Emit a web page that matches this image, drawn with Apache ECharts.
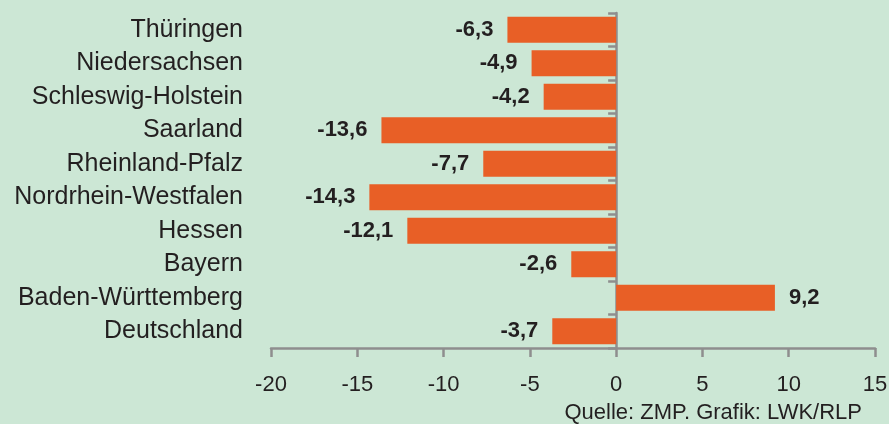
<!DOCTYPE html>
<html>
<head>
<meta charset="utf-8">
<script src="https://cdn.jsdelivr.net/npm/echarts@6/dist/echarts.min.js"></script>
<style>
  html, body { margin: 0; padding: 0; background: #cce7d5; }
  #main { width: 889px; height: 424px; }
</style>
</head>
<body>
<div id="main"></div>
<script>
// Bundesländer, von oben nach unten
const regions = ['Thüringen', 'Niedersachsen', 'Schleswig-Holstein', 'Saarland', 'Rheinland-Pfalz',
  'Nordrhein-Westfalen', 'Hessen', 'Bayern', 'Baden-Württemberg', 'Deutschland']
// Veränderung in %
const changes = [-6.3, -4.9, -4.2, -13.6, -7.7, -14.3, -12.1, -2.6, 9.2, -3.7]
const xTicks = [-20, -15, -10, -5, 0, 5, 10, 15]
const source = 'Quelle: ZMP. Grafik: LWK/RLP'

const axisGray = '#8e8e8e'
const textColor = '#231f20'
const font = 'Liberation Sans, Arial, sans-serif'

const option = {
  backgroundColor: '#cce7d5',
  animation: false,
  grid: { left: 271, right: 14, top: 13, bottom: 76, containLabel: false, outerBoundsMode: 'none' },
  xAxis: {
    type: 'value',
    min: xTicks[0],
    max: xTicks[xTicks.length - 1],
    interval: 5,
    axisLine: { show: true, lineStyle: { color: axisGray, width: 2.5 } },
    axisTick: { show: true, length: 9, lineStyle: { color: axisGray, width: 2.5 } },
    splitLine: { show: false },
    axisLabel: {
      margin: 26,
      color: textColor,
      fontSize: 22,
      fontFamily: font
    }
  },
  yAxis: {
    type: 'category',
    data: regions,
    inverse: true,
    axisLine: { show: true, onZero: true, lineStyle: { color: axisGray, width: 2.5 } },
    axisTick: { show: true, length: 8, interval: 0, lineStyle: { color: axisGray, width: 2.5 } },
    axisLabel: {
      interval: 0,
      margin: 28,
      color: textColor,
      fontSize: 25,
      fontFamily: font
    }
  },
  series: [{
    type: 'bar',
    data: changes.map(v => ({
      value: v,
      label: { position: v < 0 ? 'left' : 'right' }
    })),
    barCategoryGap: '22%',
    itemStyle: { color: '#e85f26' },
    label: {
      show: true,
      distance: 14,
      color: textColor,
      fontSize: 22,
      fontWeight: 'bold',
      fontFamily: font,
      formatter: p => String(p.value).replace('.', ',')
    }
  }],
  graphic: [{
    type: 'text',
    right: 27,
    bottom: 0,
    style: {
      text: source,
      fill: textColor,
      fontSize: 22,
      fontFamily: font
    }
  }]
}

echarts.init(document.getElementById('main')).setOption(option)
</script>
</body>
</html>
